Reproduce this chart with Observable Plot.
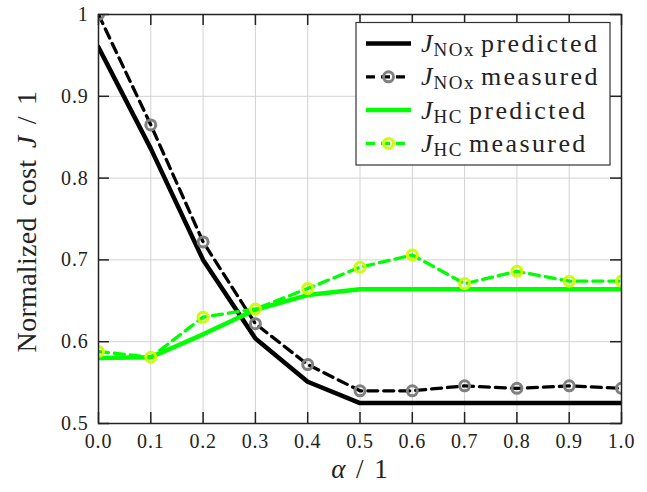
<!DOCTYPE html>
<html>
<head>
<meta charset="utf-8">
<script src="https://cdn.jsdelivr.net/npm/d3@7"></script>
<script src="https://cdn.jsdelivr.net/npm/@observablehq/plot@0.6"></script>
<style>
  html, body { margin: 0; padding: 0; background: #fff; }
  #chart { width: 647px; height: 492px; }
</style>
</head>
<body>
<div id="chart"></div>
<script>
// ---- data ----
const alpha = [0.0, 0.1, 0.2, 0.3, 0.4, 0.5, 0.6, 0.7, 0.8, 0.9, 1.0];
const noxPredicted = [0.960, 0.836, 0.700, 0.604, 0.551, 0.525, 0.525, 0.525, 0.525, 0.525, 0.525];
const noxMeasured  = [1.000, 0.865, 0.722, 0.622, 0.572, 0.540, 0.540, 0.546, 0.543, 0.546, 0.543];
const hcPredicted  = [0.580, 0.581, 0.609, 0.639, 0.657, 0.664, 0.664, 0.664, 0.664, 0.664, 0.664];
const hcMeasured   = [0.588, 0.581, 0.630, 0.640, 0.665, 0.691, 0.706, 0.671, 0.686, 0.674, 0.674];
const xTicks = [0.0, 0.1, 0.2, 0.3, 0.4, 0.5, 0.6, 0.7, 0.8, 0.9, 1.0];
const yTicks = [0.5, 0.6, 0.7, 0.8, 0.9, 1.0];
const seriesNames = ["predicted", "measured", "predicted", "measured"];
const seriesSubs = ["NOx", "NOx", "HC", "HC"];

const rows = (ys) => alpha.map((a, i) => ({a, v: ys[i]}));

const W = 647, H = 492;
const mL = 98, mR = 26, mT = 14, mB = 69;
const tickLen = 11;
const font = "'Liberation Serif', 'DejaVu Serif', serif";

const xPerPx = 1 / (W - mL - mR);
const yPerPx = 0.5 / (H - mT - mB);

const plot = Plot.plot({
  width: W, height: H,
  marginLeft: mL, marginRight: mR, marginTop: mT, marginBottom: mB,
  style: {fontFamily: font, fontSize: "20px", color: "#222", background: "#fff", letterSpacing: "0.8px"},
  x: {domain: [0, 1], label: null},
  y: {domain: [0.5, 1], label: null},
  marks: [
    Plot.gridX(xTicks.slice(1, -1), {stroke: "#d2d2d2", strokeOpacity: 1, strokeWidth: 1}),
    Plot.gridY(yTicks.slice(1, -1), {stroke: "#d2d2d2", strokeOpacity: 1, strokeWidth: 1}),
    // inward ticks
    Plot.ruleY(yTicks, {y: d => d, x1: 0, x2: tickLen * xPerPx, stroke: "#222", strokeWidth: 1.5}),
    Plot.ruleY(yTicks, {y: d => d, x1: 1 - tickLen * xPerPx, x2: 1, stroke: "#222", strokeWidth: 1.5}),
    Plot.ruleX(xTicks, {x: d => d, y1: 0.5, y2: 0.5 + tickLen * yPerPx, stroke: "#222", strokeWidth: 1.5}),
    Plot.ruleX(xTicks, {x: d => d, y1: 1 - tickLen * yPerPx, y2: 1, stroke: "#222", strokeWidth: 1.5}),
    Plot.axisX(xTicks, {tickSize: 0, tickPadding: 10, tickFormat: d => d.toFixed(1), fontSize: 20, label: null}),
    Plot.axisY(yTicks, {tickSize: 0, tickPadding: 10, tickFormat: d => d === 1 ? "1" : d.toFixed(1), fontSize: 20, label: null}),
    // NOx
    Plot.line(rows(noxPredicted), {x: "a", y: "v", stroke: "#000", strokeWidth: 4.5, clip: true}),
    Plot.line(rows(noxMeasured), {x: "a", y: "v", stroke: "#000", strokeWidth: 3.3, strokeDasharray: "10,6", clip: true}),
    Plot.dot(rows(noxMeasured), {x: "a", y: "v", r: 5, stroke: "#808080", strokeWidth: 3, fill: "none", clip: true}),
    // HC
    Plot.line(rows(hcPredicted), {x: "a", y: "v", stroke: "#00ff00", strokeWidth: 4.5, clip: true}),
    Plot.line(rows(hcMeasured), {x: "a", y: "v", stroke: "#00ff00", strokeWidth: 3.3, strokeDasharray: "10,6", clip: true}),
    Plot.dot(rows(hcMeasured), {x: "a", y: "v", r: 5, stroke: "#ccff00", strokeWidth: 3, fill: "none", clip: true}),
    Plot.frame({stroke: "#222", strokeWidth: 1.5})
  ]
});

document.getElementById("chart").appendChild(plot);

const svg = d3.select(plot);
const xs = plot.scale("x"), ys = plot.scale("y");
const cx = (xs.range[0] + xs.range[1]) / 2;
const cy = (ys.range[0] + ys.range[1]) / 2;

// y axis label
const yl = svg.append("text")
  .attr("transform", `translate(36,${cy + 3}) rotate(-90)`)
  .attr("text-anchor", "middle")
  .attr("font-family", font)
  .attr("font-size", 28)
  .attr("fill", "#222")
  .attr("letter-spacing", "0.3px")
  .attr("word-spacing", "4px");
yl.append("tspan").text("Normalized cost ");
yl.append("tspan").attr("font-style", "italic").text("J");
yl.append("tspan").text(" / 1");

// x axis label
const xl = svg.append("text")
  .attr("x", cx).attr("y", 478)
  .attr("text-anchor", "middle")
  .attr("font-family", font)
  .attr("font-size", 27)
  .attr("fill", "#222")
  .attr("letter-spacing", "0px")
  .attr("word-spacing", "4px");
xl.append("tspan").attr("font-style", "italic").text("α");
xl.append("tspan").text(" / 1");

// legend
const lg = svg.append("g").attr("font-family", font).attr("fill", "#222").attr("text-anchor", "start");
lg.append("rect").attr("x", 356).attr("y", 22.5).attr("width", 254).attr("height", 142.5)
  .attr("fill", "#fff").attr("stroke", "#333").attr("stroke-width", 1.2);
const styles = [
  {stroke: "#000", w: 4.5, dash: null, marker: null},
  {stroke: "#000", w: 3.3, dash: "9,6", marker: "#808080"},
  {stroke: "#00ff00", w: 4.5, dash: null, marker: null},
  {stroke: "#00ff00", w: 3.3, dash: "9,6", marker: "#ccff00"}
];
styles.forEach((s, i) => {
  const yy = 43.5 + i * 33.3;
  const ln = lg.append("line").attr("x1", 366).attr("x2", 411).attr("y1", yy).attr("y2", yy)
    .attr("stroke", s.stroke).attr("stroke-width", s.w);
  if (s.dash) ln.attr("stroke-dasharray", s.dash);
  if (s.marker) lg.append("circle").attr("cx", 388.5).attr("cy", yy).attr("r", 5)
    .attr("fill", "none").attr("stroke", s.marker).attr("stroke-width", 3);
  const t = lg.append("text").attr("x", 421).attr("y", yy + 8.5).attr("font-size", 26)
    .attr("text-anchor", "start").attr("letter-spacing", "0px");
  t.append("tspan").attr("font-style", "italic").text("J");
  t.append("tspan").attr("font-size", 19).attr("dy", 4).attr("dx", 1).attr("letter-spacing", "1.5px").text(seriesSubs[i]);
  t.append("tspan").attr("dy", -4).attr("dx", 6).attr("letter-spacing", "2.4px").text(seriesNames[i]);
});
</script>
</body>
</html>
